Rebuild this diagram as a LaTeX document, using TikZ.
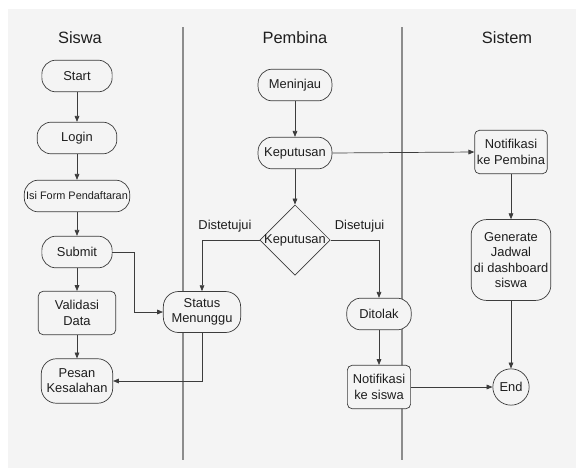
\documentclass[tikz,border=0pt]{standalone}
\usepackage{fontspec}
\setmainfont{Liberation Sans}
\usetikzlibrary{shapes.geometric,arrows.meta,positioning}
\definecolor{cBack}{RGB}{244,244,244}
\definecolor{cLine}{RGB}{60,60,60}
\definecolor{cLane}{RGB}{140,140,140}
\definecolor{cText}{RGB}{30,30,30}
\tikzset{
  basebox/.style={rectangle,draw=cLine,fill=cBack,line width=0.6pt,
                  align=center,inner sep=1.5pt,text=cText,
                  font=\fontsize{11}{13}\selectfont},
  pillnode/.style={basebox,rounded corners=12pt,minimum height=27pt},
  procnode/.style={basebox,rounded corners=4pt},
  decnode/.style={diamond,draw=cLine,fill=cBack,line width=0.6pt,inner sep=0pt,
                  minimum width=60pt,minimum height=60pt,text=cText,
                  font=\fontsize{11}{13}\selectfont},
  endnode/.style={circle,draw=cLine,fill=cBack,line width=0.6pt,
                  minimum size=31pt,inner sep=0pt,text=cText,
                  font=\fontsize{11}{13}\selectfont},
  lanetitle/.style={text=cText,font=\fontsize{14}{16}\selectfont},
  edgelabel/.style={text=cText,font=\fontsize{11}{13}\selectfont},
  arr/.style={-{Triangle[length=5pt,width=4pt]},cLine,line width=0.6pt},
  lane/.style={cLane,line width=1.3pt}
}

\begin{document}
\begin{tikzpicture}[x=0.03cm,y=-0.03cm]
  % background
  \fill[white] (0,0) rectangle (576,468);
  \fill[cBack] (8,9) rectangle (576,468);
  \useasboundingbox (0,0) rectangle (576,468);

  % lanes
  \draw[lane] (183,27) -- (183,460);
  \draw[lane] (402,27) -- (402,460);
  \node[lanetitle] (tSiswa) at (80,38) {Siswa};
  \node[lanetitle] (tPembina) at (295,38) {Pembina};
  \node[lanetitle] (tSistem) at (507,38) {Sistem};

  % Siswa
  \node[pillnode,minimum width=60pt] (start) at (77,76) {Start};
  \node[pillnode,minimum width=68pt] (login) at (77,138) {Login};
  \node[pillnode,minimum width=90pt,font=\fontsize{9.3}{11}\selectfont]
       (form) at (77,196) {Isi Form Pendaftaran};
  \node[pillnode,minimum width=60pt] (submit) at (77,252) {Submit};
  \node[procnode,minimum width=66pt,minimum height=37pt]
       (validasi) at (77,313) {Validasi\\Data};
  \node[basebox,rounded corners=13pt,minimum width=61pt,minimum height=38pt]
       (pesan) at (77,381) {Pesan\\Kesalahan};

  % Pembina
  \node[basebox,rounded corners=13pt,minimum width=66pt,minimum height=35pt]
       (status) at (202,312) {Status\\Menunggu};
  \node[pillnode,minimum width=63pt] (meninjau) at (295,85) {Meninjau};
  \node[pillnode,minimum width=63pt] (keputusan) at (295,153) {Keputusan};
  \node[decnode] (dec) at (295,240) {\makebox[20pt]{Keputusan}};
  \node[pillnode,minimum width=55pt] (ditolak) at (379,314) {Ditolak};
  \node[procnode,minimum width=54pt,minimum height=37pt]
       (notifsiswa) at (379,387) {Notifikasi\\ke siswa};

  % Sistem
  \node[procnode,minimum width=62pt,minimum height=37pt]
       (notifpembina) at (511,152) {Notifikasi\\ke Pembina};
  \node[basebox,rounded corners=13pt,minimum width=68pt,minimum height=69pt]
       (generate) at (511,260) {Generate\\Jadwal\\di dashboard\\siswa};
  \node[endnode] (end) at (511,387) {End};

  \coordinate (sbend) at (134,252);

  % connectors
  \draw[arr] (start) -- (login);
  \draw[arr] (login) -- (form);
  \draw[arr] (form) -- (submit);
  \draw[arr] (submit) -- (validasi);
  \draw[arr] (validasi) -- (pesan);
  \draw[arr] (submit.east) -- (sbend) |- (status.west);
  \draw[arr] (status.south) |- (pesan.east);
  \draw[arr] (meninjau) -- (keputusan);
  \draw[arr] (keputusan) -- (dec);
  \draw[arr] (dec.west) -| node[edgelabel,pos=0.3,above=3pt]{Distetujui} (status.north);
  \draw[arr] (dec.east) -| node[edgelabel,pos=0.3,above=3pt]{Disetujui} (ditolak.north);
  \draw[arr] (ditolak) -- (notifsiswa);
  \draw[arr] (notifsiswa.east) -- (end.west);
  \draw[arr] (keputusan.east) -- (notifpembina.west);
  \draw[arr] (notifpembina) -- (generate);
  \draw[arr] (generate) -- (end);
\end{tikzpicture}
\end{document}
